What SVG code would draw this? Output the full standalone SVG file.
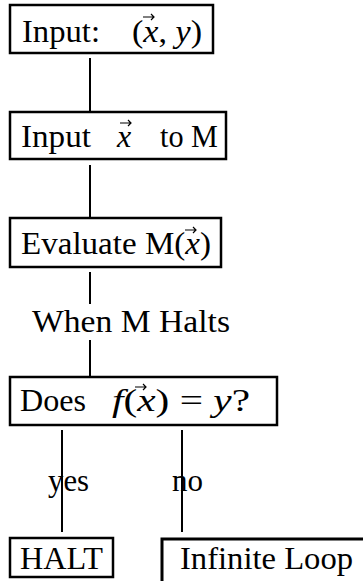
<svg xmlns="http://www.w3.org/2000/svg" width="363" height="581" viewBox="0 0 363 581" font-family="'Liberation Serif', 'Times New Roman', 'DejaVu Serif', serif" font-size="32">
<style>
.box{fill:none;stroke:#000;stroke-width:2.5}
.ln{stroke:#000;stroke-width:2;fill:none}
text{font-family:'Liberation Serif','Times New Roman','DejaVu Serif',serif;font-size:32px;fill:#000}
.it{font-style:italic}
.vec{stroke:#000;stroke-width:1.2;fill:none}
</style>
<rect width="363" height="581" fill="#fff"/>
<g id="connectors">
<line class="ln" x1="90" y1="58" x2="90" y2="112"/>
<line class="ln" x1="90" y1="165" x2="90" y2="217"/>
<line class="ln" x1="90" y1="272" x2="90" y2="304"/>
<line class="ln" x1="90" y1="340" x2="90" y2="376"/>
<line class="ln" x1="62" y1="430" x2="62" y2="532"/>
<line class="ln" x1="182" y1="430" x2="182" y2="532"/>
<text x="48" y="491" textLength="41" lengthAdjust="spacingAndGlyphs">yes</text>
<text x="172" y="491" textLength="31" lengthAdjust="spacingAndGlyphs">no</text>
<text x="32" y="332" textLength="198" lengthAdjust="spacingAndGlyphs">When M Halts</text>
</g>
<g id="n1">
<rect class="box" x="10" y="5" width="203" height="48"/>
<text x="22" y="42" textLength="78" lengthAdjust="spacingAndGlyphs">Input:</text>
<text x="132" y="42" textLength="70" lengthAdjust="spacingAndGlyphs">(<tspan class="it">x</tspan>, <tspan class="it">y</tspan>)</text>
<path class="vec" d="M143 17h11m-3-3l3 3l-3 3"/>
</g>
<g id="n2">
<rect class="box" x="10" y="112" width="216" height="47"/>
<text x="21" y="147" textLength="70" lengthAdjust="spacingAndGlyphs">Input</text>
<text class="it" x="117" y="147">x</text>
<path class="vec" d="M120 123h11m-3-3l3 3l-3 3"/>
<text x="160" y="147" textLength="58" lengthAdjust="spacingAndGlyphs">to M</text>
</g>
<g id="n3">
<rect class="box" x="10" y="218" width="211" height="49"/>
<text x="21" y="254" textLength="190" lengthAdjust="spacingAndGlyphs">Evaluate M(<tspan class="it">x</tspan>)</text>
<path class="vec" d="M185 230h11m-3-3l3 3l-3 3"/>
</g>
<g id="n4">
<rect class="box" x="10" y="377" width="267" height="48"/>
<text x="20" y="411" textLength="66" lengthAdjust="spacingAndGlyphs">Does</text>
<text x="112" y="411" textLength="138" lengthAdjust="spacingAndGlyphs"><tspan class="it">f</tspan>(<tspan class="it">x</tspan>) = <tspan class="it">y</tspan>?</text>
<path class="vec" d="M135 387h11m-3-3l3 3l-3 3"/>
</g>
<g id="n5">
<rect class="box" x="10" y="538" width="103" height="39"/>
<text x="20" y="569" textLength="83" lengthAdjust="spacingAndGlyphs">HALT</text>
</g>
<g id="n6">
<path class="box" d="M162 581V539H363" style="stroke-width:3"/>
<text x="180" y="569" textLength="173" lengthAdjust="spacingAndGlyphs">Infinite Loop</text>
</g>
</svg>
